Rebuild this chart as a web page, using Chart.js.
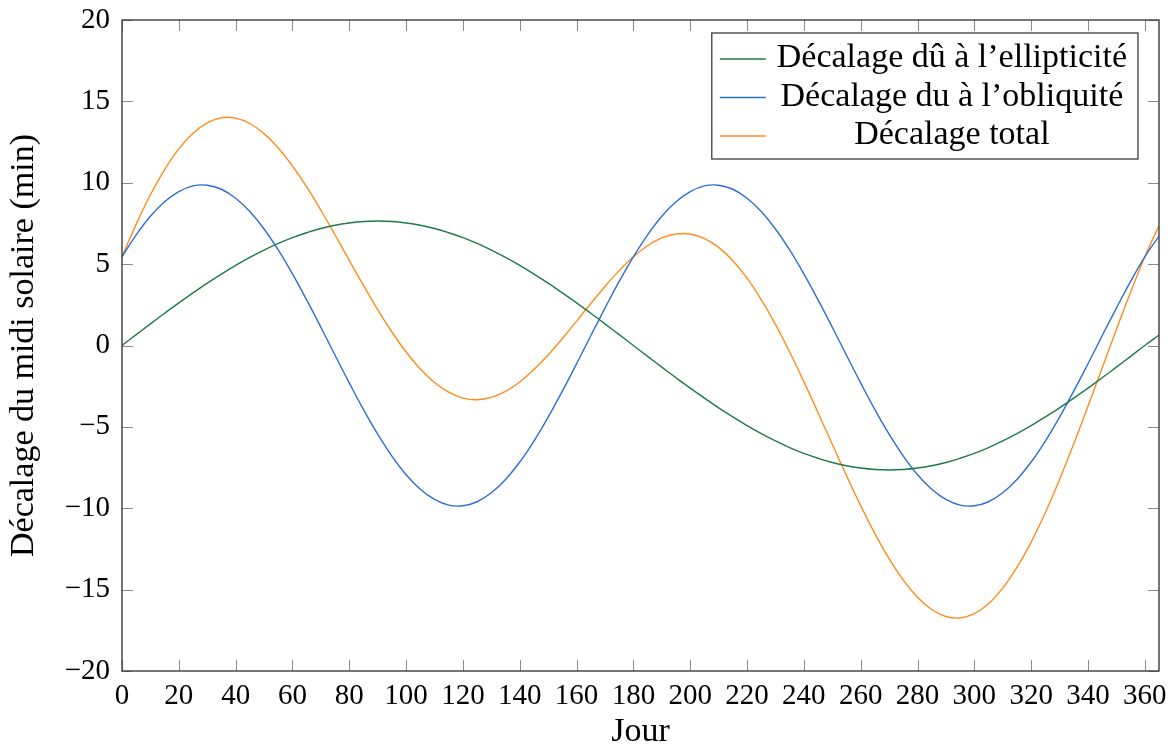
<!DOCTYPE html>
<html>
<head>
<meta charset="utf-8">
<script src="https://cdn.jsdelivr.net/npm/chart.js@4.4.0/dist/chart.umd.min.js"></script>
<style>
  html, body { margin: 0; padding: 0; background: #fff; }
  #wrap { width: 1174px; height: 752px; }
</style>
</head>
<body>
<div id="wrap"><canvas id="myChart" width="1174" height="752"></canvas></div>
<script>
"use strict";

// jours (pas de 5)
const days = [0, 5, 10, 15, 20, 25, 30, 35, 40, 45, 50, 55, 60, 65, 70, 75, 80, 85,
  90, 95, 100, 105, 110, 115, 120, 125, 130, 135, 140, 145, 150, 155, 160, 165, 170, 175,
  180, 185, 190, 195, 200, 205, 210, 215, 220, 225, 230, 235, 240, 245, 250, 255, 260, 265,
  270, 275, 280, 285, 290, 295, 300, 305, 310, 315, 320, 325, 330, 335, 340, 345, 350, 355,
  360, 365];

const ellipticity = [0, 0.67, 1.33, 1.98, 2.62, 3.23, 3.83, 4.39, 4.92, 5.41, 5.86, 6.27, 6.63, 6.93, 7.19, 7.39, 7.53, 7.62,
  7.65, 7.62, 7.53, 7.39, 7.19, 6.93, 6.63, 6.27, 5.86, 5.41, 4.92, 4.39, 3.83, 3.23, 2.62, 1.98, 1.33, 0.67,
  0, -0.67, -1.33, -1.98, -2.62, -3.23, -3.83, -4.39, -4.92, -5.41, -5.86, -6.27, -6.63, -6.93, -7.19, -7.39, -7.53, -7.62,
  -7.65, -7.62, -7.53, -7.39, -7.19, -6.93, -6.63, -6.27, -5.86, -5.41, -4.92, -4.39, -3.83, -3.23, -2.62, -1.98, -1.33, -0.67,
  0, 0.64];

const obliquity = [5.45, 6.80, 7.94, 8.83, 9.46, 9.81, 9.85, 9.60, 9.05, 8.23, 7.16, 5.87, 4.40, 2.80, 1.12, -0.60, -2.30, -3.94,
  -5.45, -6.80, -7.94, -8.83, -9.46, -9.81, -9.85, -9.60, -9.05, -8.23, -7.16, -5.87, -4.40, -2.80, -1.12, 0.60, 2.30, 3.94,
  5.45, 6.80, 7.94, 8.83, 9.46, 9.81, 9.85, 9.60, 9.05, 8.23, 7.16, 5.87, 4.40, 2.80, 1.12, -0.60, -2.30, -3.94,
  -5.45, -6.80, -7.94, -8.83, -9.46, -9.81, -9.85, -9.60, -9.05, -8.23, -7.16, -5.87, -4.40, -2.80, -1.12, 0.60, 2.30, 3.94,
  5.45, 6.72];

const total = [5.45, 7.46, 9.26, 10.81, 12.08, 13.04, 13.68, 13.99, 13.97, 13.64, 13.02, 12.14, 11.03, 9.74, 8.31, 6.79, 5.23, 3.69,
  2.20, 0.83, -0.40, -1.44, -2.27, -2.87, -3.23, -3.33, -3.19, -2.82, -2.24, -1.48, -0.58, 0.43, 1.50, 2.58, 3.63, 4.60,
  5.45, 6.13, 6.61, 6.85, 6.85, 6.57, 6.03, 5.21, 4.14, 2.82, 1.30, -0.40, -2.22, -4.13, -6.07, -7.99, -9.84, -11.56,
  -13.10, -14.42, -15.47, -16.22, -16.65, -16.74, -16.48, -15.87, -14.91, -13.64, -12.08, -10.26, -8.23, -6.04, -3.73, -1.38, 0.98, 3.27,
  5.45, 7.36];

const seriesLabels = ["Décalage dû à l’ellipticité", "Décalage du à l’obliquité", "Décalage total"];
const seriesColors = ["#1f7a4c", "#2c6fd1", "#ff8c1f"];

const tickFont = { family: "Liberation Serif", size: 29 };
const textFont = { family: "Liberation Serif", size: 34 };
const tickLen = 11;

function toPoints(values) {
  return values.map((v, i) => ({ x: days[i], y: v }));
}

// cadre + graduations vers l'intérieur + légende encadrée (style pgfplots)
const framePlugin = {
  id: "frame",
  afterDraw(chart) {
    const { ctx, chartArea: a, scales } = chart;
    ctx.save();
    ctx.strokeStyle = "#8a8a8a";
    ctx.lineWidth = 1;
    ctx.beginPath();
    scales.x.ticks.forEach((t) => {
      const px = Math.round(scales.x.getPixelForValue(t.value)) + 0.5;
      ctx.moveTo(px, a.bottom);
      ctx.lineTo(px, a.bottom - tickLen);
      ctx.moveTo(px, a.top);
      ctx.lineTo(px, a.top + tickLen);
    });
    scales.y.ticks.forEach((t) => {
      const py = Math.round(scales.y.getPixelForValue(t.value)) + 0.5;
      ctx.moveTo(a.left, py);
      ctx.lineTo(a.left + tickLen, py);
      ctx.moveTo(a.right, py);
      ctx.lineTo(a.right - tickLen, py);
    });
    ctx.stroke();

    ctx.strokeStyle = "#3c3c3c";
    ctx.lineWidth = 1.4;
    ctx.strokeRect(a.left, a.top, a.right - a.left, a.bottom - a.top);

    // légende
    ctx.font = textFont.size + "px " + textFont.family;
    const widths = chart.data.datasets.map((d) => ctx.measureText(d.label).width);
    const maxW = Math.max(...widths);
    const boxW = maxW + 76;
    const boxH = 126;
    const bx = a.right - 21 - boxW;
    const by = a.top + 13;
    ctx.fillStyle = "#fff";
    ctx.fillRect(bx, by, boxW, boxH);
    ctx.strokeStyle = "#3c3c3c";
    ctx.lineWidth = 1.3;
    ctx.strokeRect(bx, by, boxW, boxH);
    const textCenter = bx + 62 + (boxW - 70) / 2;
    chart.data.datasets.forEach((d, i) => {
      const ly = by + 26 + i * 38.5;
      ctx.strokeStyle = d.borderColor;
      ctx.lineWidth = 1.5;
      ctx.beginPath();
      ctx.moveTo(bx + 8, ly);
      ctx.lineTo(bx + 54, ly);
      ctx.stroke();
      ctx.fillStyle = "#000";
      ctx.textAlign = "center";
      ctx.textBaseline = "alphabetic";
      ctx.fillText(d.label, textCenter, ly + 8);
    });
    ctx.restore();
  },
};

const config = {
  type: "line",
  data: {
    datasets: [
      { label: seriesLabels[0], data: toPoints(ellipticity), borderColor: seriesColors[0] },
      { label: seriesLabels[1], data: toPoints(obliquity), borderColor: seriesColors[1] },
      { label: seriesLabels[2], data: toPoints(total), borderColor: seriesColors[2] },
    ],
  },
  options: {
    responsive: false,
    animation: false,
    devicePixelRatio: 1,
    layout: { padding: { left: 0, top: 20, right: 15, bottom: 0 } },
    elements: {
      point: { radius: 0 },
      line: { borderWidth: 1.4, tension: 0.4, fill: false },
    },
    plugins: {
      legend: { display: false },
      tooltip: { enabled: false },
    },
    scales: {
      x: {
        type: "linear",
        min: 0,
        max: 365,
        grid: { display: false, drawTicks: false },
        border: { display: false },
        ticks: { stepSize: 20, includeBounds: false, color: "#000", font: tickFont, padding: 8, maxRotation: 0 },
        title: { display: true, text: "Jour", color: "#000", font: textFont, padding: { top: 0, bottom: 0 } },
        afterFit: (s) => { s.height = 81; s.paddingLeft = 0; s.paddingRight = 0; },
      },
      y: {
        min: -20,
        max: 20,
        grid: { display: false, drawTicks: false },
        border: { display: false },
        ticks: {
          stepSize: 5,
          color: "#000",
          font: tickFont,
          padding: 12,
          callback: (v) => String(v).replace("-", "\u2212"),
        },
        title: { display: true, text: "Décalage du midi solaire (min)", color: "#000", font: textFont, padding: { top: 4, bottom: 0 } },
        afterFit: (s) => { s.width = 122; s.paddingTop = 0; s.paddingBottom = 0; },
      },
    },
  },
  plugins: [framePlugin],
};

const canvasChart = document.getElementById("myChart");
new Chart(canvasChart, config);
</script>
</body>
</html>
